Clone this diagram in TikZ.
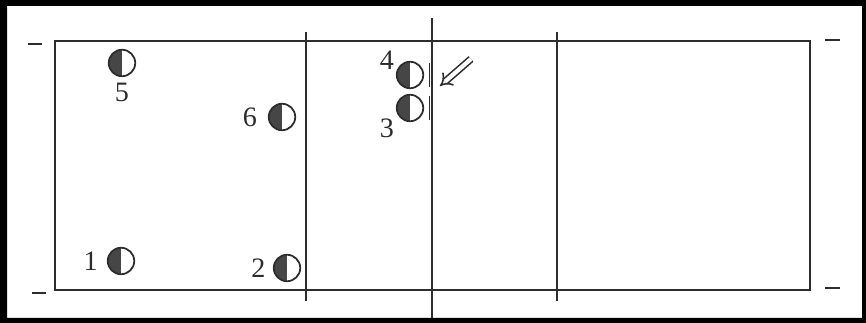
\documentclass[tikz,border=0pt]{standalone}
\usepackage{fontspec}
\setmainfont{Liberation Serif}
\usepackage{tikz}
\usetikzlibrary{arrows.meta, positioning, calc}
\definecolor{linie}{RGB}{45, 45, 45}
\definecolor{halb}{RGB}{70, 70, 70}

\begin{document}
\begin{tikzpicture}[
    x=0.02cm, y=-0.02cm,
    font=\fontsize{16}{18}\selectfont,
    spieler/.style={circle, draw=linie, line width=1pt, minimum size=0.53cm, inner sep=0pt,
                    path picture={\fill[halb] (path picture bounding box.north west)
                                  rectangle (path picture bounding box.south);}},
    nummer/.style={inner sep=0pt, text=linie},
    feld/.style={linie, line width=1pt},
    pfeil/.style={linie, double, double distance=2.4pt, line width=0.9pt, -{Implies[scale=1.2]}}
  ]
    % Rahmen und Spielfeld
    \fill[black, even odd rule] (0,0) rectangle (866,323) (7,6) rectangle (862,318);
    \draw[feld] (55,41) rectangle (810,290);
    \draw[feld] (306,32) -- (306,301);
    \draw[feld] (432,18) -- (432,318);
    \draw[feld] (557,32) -- (557,301);
    \draw[feld] (28,44) -- (42,44);
    \draw[feld] (32,293) -- (46,293);
    \draw[feld] (825,40) -- (840,40);
    \draw[feld] (825,288) -- (840,288);
    % Spieler
    \node[spieler] (p1) at (121,261) {};
    \node[spieler] (p2) at (287,268) {};
    \node[spieler] (p3) at (410,108) {};
    \node[spieler] (p4) at (410,75) {};
    \node[spieler] (p5) at (122,63) {};
    \node[spieler] (p6) at (282,117) {};
    \node[nummer, left=5pt of p1] (n1) {1};
    \node[nummer, left=4pt of p2] (n2) {2};
    \node[nummer, at={($(p3)+(-23,20)$)}] (n3) {3};
    \node[nummer, at={($(p4)+(-23,-15)$)}] (n4) {4};
    \node[nummer, below=3pt of p5] (n5) {5};
    \node[nummer, left=6pt of p6] (n6) {6};
    % Block am Netz
    \draw[feld, line width=1pt] ([xshift=3pt, yshift=7pt]p4.east) -- ([xshift=3pt, yshift=-7pt]p4.east);
    \draw[feld, line width=1pt] ([xshift=3pt, yshift=7pt]p3.east) -- ([xshift=3pt, yshift=-7pt]p3.east);
    \coordinate (pfeilA) at (471,59);
    \coordinate (pfeilB) at (440,86);
    \draw[pfeil] (pfeilA) -- (pfeilB);
  \end{tikzpicture}
\end{document}
